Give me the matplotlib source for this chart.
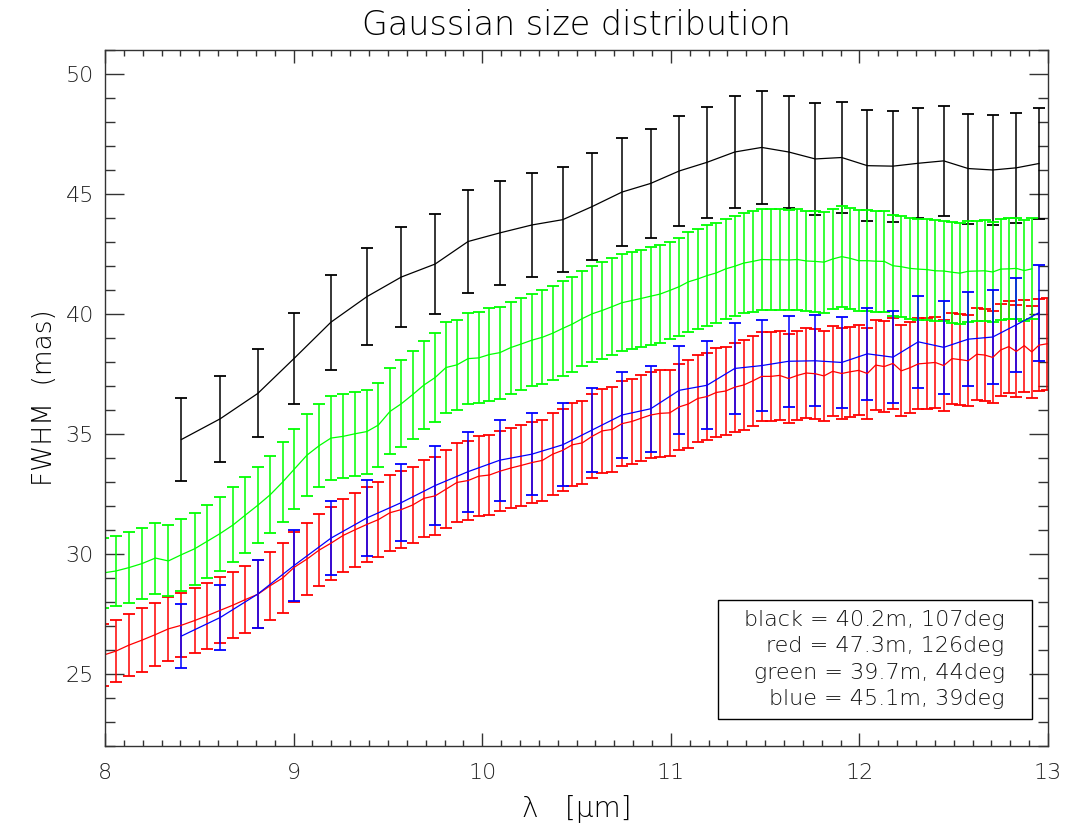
import matplotlib
matplotlib.use("Agg")
import matplotlib.pyplot as plt
from matplotlib.ticker import MultipleLocator

# longitudes de onda (micras): rejilla fina (rojo/verde) y gruesa (negro/azul)
wl_fine = [7.989, 8.057, 8.126, 8.196, 8.267, 8.336, 8.405, 8.476, 8.542, 8.610,
           8.679, 8.744, 8.810, 8.876, 8.942, 9.004, 9.071, 9.135, 9.198, 9.262,
           9.326, 9.388, 9.449, 9.511, 9.571, 9.631, 9.691, 9.750, 9.808, 9.866,
           9.925, 9.981, 10.038, 10.094, 10.151, 10.207, 10.264, 10.319, 10.374, 10.427,
           10.478, 10.531, 10.584, 10.637, 10.690, 10.741, 10.793, 10.844, 10.893, 10.943,
           10.994, 11.045, 11.093, 11.143, 11.192, 11.241, 11.291, 11.339, 11.386, 11.434,
           11.482, 11.530, 11.577, 11.625, 11.671, 11.718, 11.766, 11.812, 11.858, 11.906,
           11.950, 11.996, 12.042, 12.086, 12.132, 12.178, 12.222, 12.268, 12.312, 12.357,
           12.402, 12.447, 12.491, 12.533, 12.577, 12.622, 12.664, 12.707, 12.749, 12.792,
           12.832, 12.874, 12.914, 12.952, 12.996]

wl_coarse = [8.405, 8.610, 8.810, 9.004, 9.198, 9.388, 9.571, 9.750, 9.925, 10.094,
             10.264, 10.427, 10.584, 10.741, 10.893, 11.045, 11.192, 11.339, 11.482, 11.625,
             11.766, 11.906, 12.042, 12.178, 12.312, 12.447, 12.577, 12.707, 12.832, 12.952]

red_fwhm = [25.78, 25.95, 26.20, 26.41, 26.64, 26.88, 27.03, 27.23, 27.43, 27.65,
            27.87, 28.10, 28.32, 28.68, 29.00, 29.45, 29.79, 30.16, 30.45, 30.77,
            31.01, 31.23, 31.43, 31.72, 31.85, 32.04, 32.32, 32.42, 32.70, 32.98,
            33.06, 33.24, 33.29, 33.45, 33.58, 33.69, 33.81, 33.90, 34.16, 34.32,
            34.55, 34.63, 34.91, 35.13, 35.19, 35.43, 35.52, 35.66, 35.79, 35.86,
            35.88, 36.13, 36.25, 36.48, 36.56, 36.73, 36.79, 36.95, 37.04, 37.21,
            37.40, 37.40, 37.44, 37.31, 37.44, 37.54, 37.51, 37.42, 37.61, 37.52,
            37.59, 37.65, 37.52, 37.87, 37.81, 37.94, 37.63, 37.76, 37.92, 37.95,
            37.98, 37.85, 38.14, 38.10, 38.05, 38.32, 38.29, 38.19, 38.50, 38.64,
            38.44, 38.68, 38.42, 38.70, 38.76]
red_err = [1.30, 1.30, 1.30, 1.32, 1.32, 1.34, 1.34, 1.36, 1.37, 1.38,
           1.39, 1.41, 1.41, 1.42, 1.44, 1.46, 1.49, 1.50, 1.52, 1.53,
           1.54, 1.56, 1.57, 1.58, 1.59, 1.59, 1.61, 1.61, 1.63, 1.65,
           1.65, 1.66, 1.66, 1.66, 1.67, 1.68, 1.68, 1.69, 1.70, 1.71,
           1.72, 1.73, 1.74, 1.76, 1.76, 1.77, 1.78, 1.79, 1.80, 1.80,
           1.80, 1.80, 1.82, 1.82, 1.82, 1.84, 1.85, 1.85, 1.86, 1.86,
           1.86, 1.86, 1.86, 1.86, 1.86, 1.88, 1.88, 1.88, 1.88, 1.88,
           1.88, 1.88, 1.88, 1.88, 1.88, 1.88, 1.90, 1.90, 1.90, 1.90,
           1.90, 1.90, 1.90, 1.90, 1.90, 1.92, 1.92, 1.92, 1.92, 1.92,
           1.92, 1.92, 1.92, 1.92, 1.92]

green_fwhm = [29.21, 29.29, 29.43, 29.60, 29.83, 29.71, 29.97, 30.22, 30.53, 30.85,
              31.21, 31.62, 32.03, 32.47, 33.00, 33.54, 34.12, 34.51, 34.83, 34.90,
              35.01, 35.10, 35.37, 35.94, 36.26, 36.64, 37.04, 37.35, 37.77, 37.88,
              38.14, 38.17, 38.31, 38.39, 38.60, 38.75, 38.91, 39.03, 39.20, 39.40,
              39.58, 39.81, 40.01, 40.15, 40.31, 40.47, 40.56, 40.65, 40.74, 40.83,
              40.98, 41.14, 41.34, 41.46, 41.60, 41.71, 41.88, 41.99, 42.12, 42.19,
              42.27, 42.26, 42.26, 42.25, 42.27, 42.21, 42.19, 42.16, 42.29, 42.39,
              42.32, 42.22, 42.22, 42.20, 42.19, 42.01, 41.97, 41.90, 41.87, 41.85,
              41.80, 41.79, 41.74, 41.70, 41.78, 41.79, 41.80, 41.75, 41.87, 41.88,
              41.90, 41.81, 41.88]
green_err = [1.46, 1.47, 1.47, 1.48, 1.48, 1.48, 1.50, 1.50, 1.52, 1.54,
             1.56, 1.57, 1.59, 1.61, 1.65, 1.67, 1.70, 1.73, 1.74, 1.75,
             1.75, 1.75, 1.76, 1.79, 1.81, 1.83, 1.85, 1.86, 1.88, 1.89,
             1.89, 1.90, 1.92, 1.92, 1.92, 1.93, 1.93, 1.95, 1.95, 1.97,
             1.98, 1.98, 2.00, 2.01, 2.01, 2.02, 2.02, 2.02, 2.04, 2.04,
             2.04, 2.04, 2.07, 2.07, 2.09, 2.09, 2.09, 2.09, 2.09, 2.09,
             2.10, 2.10, 2.10, 2.10, 2.10, 2.10, 2.10, 2.10, 2.10, 2.10,
             2.10, 2.10, 2.10, 2.10, 2.10, 2.10, 2.10, 2.10, 2.10, 2.10,
             2.10, 2.10, 2.10, 2.10, 2.10, 2.10, 2.10, 2.10, 2.10, 2.10,
             2.10, 2.10, 2.10]

black_fwhm = [34.77, 35.63, 36.69, 38.16, 39.66, 40.72, 41.54, 42.08, 43.02, 43.38,
              43.71, 43.93, 44.48, 45.08, 45.44, 45.96, 46.32, 46.75, 46.94, 46.75,
              46.46, 46.52, 46.18, 46.16, 46.28, 46.38, 46.06, 46.00, 46.09, 46.27]
black_err = [1.73, 1.78, 1.83, 1.90, 1.98, 2.03, 2.07, 2.10, 2.14, 2.17,
             2.18, 2.19, 2.22, 2.25, 2.27, 2.29, 2.31, 2.33, 2.34, 2.32,
             2.32, 2.31, 2.31, 2.31, 2.30, 2.30, 2.29, 2.30, 2.30, 2.31]

blue_fwhm = [26.58, 27.35, 28.33, 29.53, 30.66, 31.50, 32.14, 32.85, 33.43, 33.91,
             34.16, 34.55, 35.17, 35.79, 36.05, 36.82, 37.03, 37.73, 37.85, 38.03,
             38.05, 37.98, 38.34, 38.20, 38.84, 38.61, 38.95, 39.04, 39.55, 40.05]
blue_err = [1.32, 1.36, 1.41, 1.48, 1.53, 1.58, 1.60, 1.64, 1.67, 1.69,
            1.70, 1.73, 1.75, 1.79, 1.80, 1.84, 1.84, 1.88, 1.89, 1.89,
            1.89, 1.89, 1.91, 1.91, 1.93, 1.93, 1.95, 1.94, 1.97, 2.00]

leyenda = ["black = 40.2m, 107deg",
           "red = 47.3m, 126deg",
           "green = 39.7m, 44deg",
           "blue = 45.1m, 39deg"]

plt.rcParams['font.family'] = ['DejaVu Sans']
plt.rcParams['font.weight'] = 200

fig = plt.figure(figsize=(10.73, 8.36), dpi=100)
ax = fig.add_axes([0.0979, 0.1077, 0.8788, 0.8325])

estilo = dict(fmt='-', lw=0.9, elinewidth=1.1, capsize=4.5, capthick=1.3)
ax.errorbar(wl_coarse, black_fwhm, yerr=black_err, color='black', **estilo)
ax.errorbar(wl_fine, red_fwhm, yerr=red_err, color='#ff0000', **estilo)
ax.errorbar(wl_fine[:len(green_fwhm)], green_fwhm, yerr=green_err, color='#00ff00', **estilo)
ax.errorbar(wl_coarse, blue_fwhm, yerr=blue_err, color='#0000ff', **estilo)

ax.set_xlim(8, 13)
ax.set_ylim(22, 51)
ax.xaxis.set_major_locator(MultipleLocator(1))
ax.xaxis.set_minor_locator(MultipleLocator(0.1))
ax.yaxis.set_major_locator(MultipleLocator(5))
ax.yaxis.set_minor_locator(MultipleLocator(1))
ax.tick_params(which='both', direction='in', top=True, right=True, color='#333333',
               width=1, labelcolor='#222222')
ax.tick_params(axis='x', which='major', length=9.5, pad=12, labelsize=16)
ax.tick_params(axis='x', which='minor', length=4.5)
ax.tick_params(axis='y', which='major', length=13.5, pad=8, labelsize=16)
ax.tick_params(axis='y', which='minor', length=7)
for s in ax.spines.values():
    s.set_color('#333333')
    s.set_linewidth(1)

ax.set_title("Gaussian size distribution", fontsize=24, pad=11, fontweight=200)
ax.set_xlabel("λ   [μm]", fontsize=20, labelpad=9, fontweight=200)
ax.set_ylabel("FWHM  (mas)", fontsize=19, labelpad=6, fontweight=200)

# cuadro con la leyenda
ax.add_patch(plt.Rectangle((0.650, 0.039), 0.333, 0.171, transform=ax.transAxes,
                           fill=False, edgecolor='black', lw=1))
for i, t in enumerate(leyenda):
    ax.text(0.954, 0.181 - i * 0.038, t, transform=ax.transAxes, ha='right',
            va='center', fontsize=16, color='#111111')

plt.savefig("out.png", dpi=100)
plt.close()
